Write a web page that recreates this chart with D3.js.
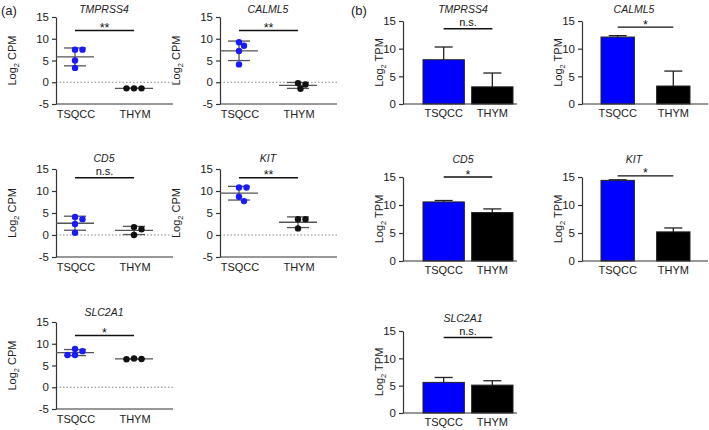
<!DOCTYPE html>
<html><head><meta charset="utf-8">
<script src="https://cdn.jsdelivr.net/npm/d3@7"></script>
<style>body{margin:0;background:#fff}svg{display:block;font-family:"Liberation Sans",Arial,sans-serif}</style>
</head><body><svg id="c" width="709" height="430"></svg>
<script>
// ---------- data ----------
const genes = ["TMPRSS4","CALML5","CD5","KIT","SLC2A1"];
const groups = ["TSQCC","THYM"];
const cpmTicks = [-5,0,5,10,15];
const tpmTicks = [0,5,10,15];
const cpmTSQCC = [[7.5,7.5,5.0,3.3],[9.2,8.4,7.2,4.1],[4.1,3.6,2.5,0.5],[10.8,10.8,8.7,7.7],[8.8,8.3,7.4,7.4]];
const cpmTHYM  = [[-1.4,-1.4,-1.4],[-0.2,-0.5,-1.5],[1.8,1.3,0.0],[3.6,3.6,1.5],[6.6,6.5,6.45]];
const cpmSig   = ["**","**","n.s.","**","*"];
const cpmSigY  = [11.9,11.9,13.0,13.0,11.9];
const tpmMeanTSQCC = [8.0,12.1,10.55,14.4,5.6];
const tpmErrTSQCC  = [2.3,0.25,0.25,0.1,0.9];
const tpmMeanTHYM  = [3.1,3.25,8.65,5.2,5.1];
const tpmErrTHYM   = [2.5,2.7,0.65,0.7,0.8];
const tpmSig   = ["n.s.","*","*","*","n.s."];
const tpmSigY  = [13.6,13.9,15.0,15.2,13.8];

// ---------- layout ----------
const aCols = [56, 220];
const aRows = [[17,104],[169,257],[322,409]];
const aTitleY = [13,162,316];
const bCols = [403, 582];
const bRows = [[21,104],[177,261],[331,413]];
const bTitleY = [13,163,322];
const svg = d3.select("#c");
const AX = "#333";

function yLabel(g, x, yc, unit){
  const t = g.append("text").attr("transform",`translate(${x},${yc}) rotate(-90)`)
    .attr("text-anchor","middle").attr("font-size",11).attr("fill","#222");
  t.append("tspan").text("Log");
  t.append("tspan").text("2").attr("font-size",7.5).attr("dy",2.5);
  t.append("tspan").text(" "+unit).attr("dy",-2.5);
}
function styleAxis(sel){
  sel.select(".domain").attr("stroke",AX).attr("stroke-width",1.2);
  sel.selectAll(".tick line").attr("stroke",AX).attr("stroke-width",1.2);
  sel.selectAll(".tick text").attr("font-size",11.5).attr("fill","#222")
    .attr("font-family","'Liberation Sans',Arial,sans-serif");
}

function drawA(i){
  const x0 = aCols[i%2], r0 = Math.floor(i/2), [yT,yB] = aRows[r0];
  const w = 117;
  const g = svg.append("g");
  const y = d3.scaleLinear().domain([-5,15]).range([yB,yT]);
  const x = d3.scalePoint().domain(groups).range([x0+19, x0+78]);
  g.append("line").attr("x1",x0).attr("x2",x0+w).attr("y1",y(0)).attr("y2",y(0))
    .attr("stroke","#888").attr("stroke-width",1).attr("stroke-dasharray","1.5,2");
  const ax = g.append("g").attr("transform",`translate(${x0},0)`)
    .call(d3.axisLeft(y).tickValues(cpmTicks).tickSize(4).tickSizeOuter(0).tickFormat(d=>String(d)));
  styleAxis(ax);
  g.append("line").attr("x1",x0).attr("x2",x0+w).attr("y1",yB).attr("y2",yB)
    .attr("stroke",AX).attr("stroke-width",1.2);
  groups.forEach(c=>g.append("text").attr("x",x(c)+1).attr("y",yB+14).attr("text-anchor","middle")
    .attr("font-size",11).attr("fill","#222").text(c));
  g.append("text").attr("x",x0+48).attr("y",aTitleY[r0]).attr("text-anchor","middle")
    .attr("font-size",10.5).attr("font-style","italic").attr("fill","#222").text(genes[i]);
  yLabel(g, x0-40, (yT+yB)/2, "CPM");
  [[cpmTSQCC[i],"#1a1aff","TSQCC"],[cpmTHYM[i],"#111","THYM"]].forEach(([vals,col,grp])=>{
    const cx = x(grp);
    const m = d3.mean(vals), sd = d3.deviation(vals);
    const eg = g.append("g").attr("stroke","#555").attr("stroke-width",1.3);
    eg.append("line").attr("x1",cx).attr("x2",cx).attr("y1",y(m+sd)).attr("y2",y(m-sd));
    eg.append("line").attr("x1",cx-19).attr("x2",cx+19).attr("y1",y(m)).attr("y2",y(m));
    [m+sd,m-sd].forEach(v=>eg.append("line").attr("x1",cx-11).attr("x2",cx+11).attr("y1",y(v)).attr("y2",y(v)));
    const placed = [];
    const r = 3.2, dmin = 2*r-0.4;
    vals.map(v=>y(v)).sort((a,b)=>a-b).forEach(py=>{
      let off = 0;
      for (let k=0;k<20;k++){
        const cand = k===0?0:(k%2? 1:-1)*Math.ceil(k/2)*2.5;
        if (placed.every(p=>Math.hypot(p[0]-cand,p[1]-py)>=dmin)){off=cand;break;}
      }
      placed.push([off,py]);
    });
    placed.forEach(p=>g.append("circle").attr("cx",cx+p[0]).attr("cy",p[1]).attr("r",r).attr("fill",col));
  });
  const sy = y(cpmSigY[i]);
  g.append("line").attr("x1",x("TSQCC")).attr("x2",x("THYM")).attr("y1",sy).attr("y2",sy)
    .attr("stroke","#111").attr("stroke-width",1.4);
  g.append("text").attr("x",(x("TSQCC")+x("THYM"))/2).attr("y",cpmSig[i]==="n.s."?sy-2.5:sy+1.5)
    .attr("text-anchor","middle").attr("font-size",cpmSig[i]==="n.s."?11:12.5).attr("fill","#111").text(cpmSig[i]);
}

function drawB(i){
  const x0 = bCols[i%2], r0 = Math.floor(i/2), [yT,yB] = bRows[r0];
  const w = i%2? 126:114;
  const g = svg.append("g");
  const y = d3.scaleLinear().domain([0,15]).range([yB,yT]);
  const x = i%2 ? d3.scaleBand().domain(groups).range([x0+19,x0+108]).paddingInner(0.4)
                : d3.scaleBand().domain(groups).range([x0+20,x0+110]).paddingInner(0.15);
  const means = [tpmMeanTSQCC[i], tpmMeanTHYM[i]], errs = [tpmErrTSQCC[i], tpmErrTHYM[i]];
  const cols = ["#0000ff","#000"];
  groups.forEach((c,k)=>{
    const cx = x(c)+x.bandwidth()/2;
    g.append("line").attr("x1",cx).attr("x2",cx).attr("y1",y(means[k])).attr("y2",y(means[k]+errs[k]))
      .attr("stroke","#222").attr("stroke-width",1.3);
    g.append("line").attr("x1",cx-9).attr("x2",cx+9).attr("y1",y(means[k]+errs[k])).attr("y2",y(means[k]+errs[k]))
      .attr("stroke","#222").attr("stroke-width",1.3);
    g.append("rect").attr("x",x(c)).attr("width",x.bandwidth()).attr("y",y(means[k]))
      .attr("height",y(0)-y(means[k])).attr("fill",cols[k]).attr("stroke","#222").attr("stroke-width",1);
    g.append("text").attr("x",cx).attr("y",yB+13).attr("text-anchor","middle")
      .attr("font-size",11).attr("fill","#222").text(c);
  });
  const ax = g.append("g").attr("transform",`translate(${x0},0)`)
    .call(d3.axisLeft(y).tickValues(tpmTicks).tickSize(4).tickSizeOuter(0).tickFormat(d=>String(d)));
  styleAxis(ax);
  g.append("line").attr("x1",x0).attr("x2",x0+w).attr("y1",yB).attr("y2",yB)
    .attr("stroke",AX).attr("stroke-width",1.2);
  g.append("text").attr("x",x0+(i%2?52:60)).attr("y",bTitleY[r0]).attr("text-anchor","middle")
    .attr("font-size",10.5).attr("font-style","italic").attr("fill","#222").text(genes[i]);
  yLabel(g, x0-20, (yT+yB)/2, "TPM");
  const sy = y(tpmSigY[i]);
  const xa = x("TSQCC")+x.bandwidth()/2, xb = x("THYM")+x.bandwidth()/2;
  g.append("line").attr("x1",xa).attr("x2",xb).attr("y1",sy).attr("y2",sy).attr("stroke","#111").attr("stroke-width",1.4);
  g.append("text").attr("x",(xa+xb)/2).attr("y",tpmSig[i]==="n.s."?sy-2.5:sy+1.5)
    .attr("text-anchor","middle").attr("font-size",tpmSig[i]==="n.s."?11:12.5).attr("fill","#111").text(tpmSig[i]);
}

genes.forEach((g,i)=>{drawA(i); drawB(i);});
svg.append("text").attr("x",1).attr("y",15).attr("font-size",13).attr("fill","#222").text("(a)");
svg.append("text").attr("x",351).attr("y",15).attr("font-size",13).attr("fill","#222").text("(b)");
</script></body></html>
